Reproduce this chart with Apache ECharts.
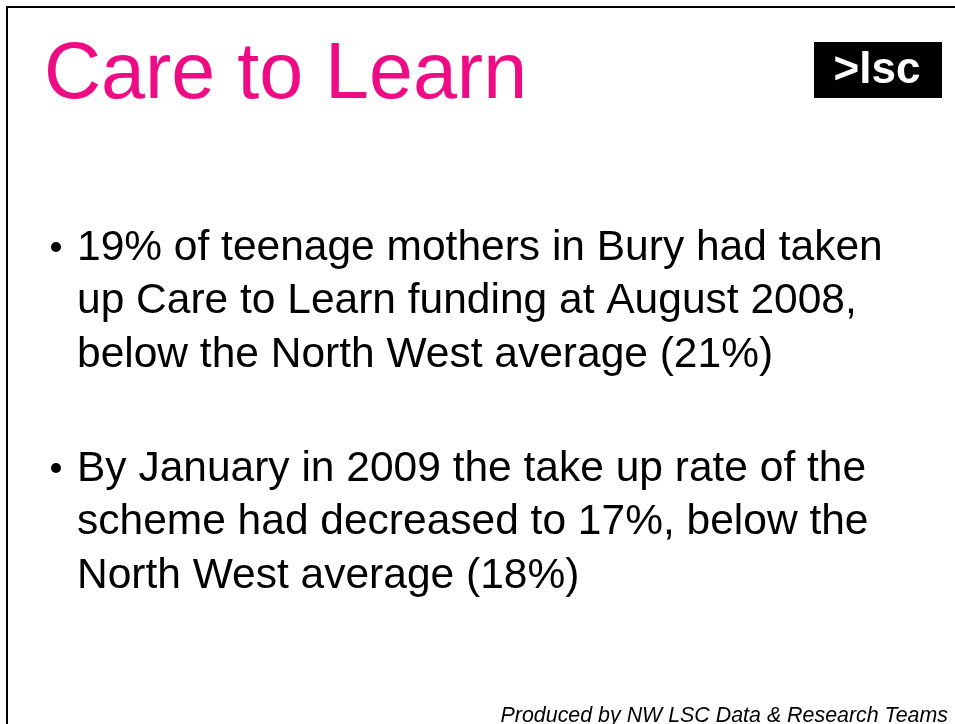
<!DOCTYPE html>
<html>
<head>
<meta charset="utf-8">
<script src="https://cdn.jsdelivr.net/npm/echarts@6/dist/echarts.min.js"></script>
<style>
html,body{margin:0;padding:0;background:#fff;}
#chart{width:955px;height:724px;}
</style>
</head>
<body>
<div id="chart"></div>
<script>
// Data
var title = 'Care to Learn';
var periods = ['August 2008', 'January 2009'];
var buryRate = [19, 17];
var northWestRate = [21, 18];
var footer = 'Produced by NW LSC Data & Research Teams';
var logoText = '>lsc';

var bullet1 = [
  buryRate[0] + '% of teenage mothers in Bury had taken',
  'up Care to Learn funding at ' + periods[0] + ',',
  'below the North West average (' + northWestRate[0] + '%)'
];
var bullet2 = [
  'By ' + periods[1].split(' ')[0] + ' in ' + periods[1].split(' ')[1] + ' the take up rate of the',
  'scheme had decreased to ' + buryRate[1] + '%, below the',
  'North West average (' + northWestRate[1] + '%)'
];

var font = '"Liberation Sans", Arial, sans-serif';
var chart = echarts.init(document.getElementById('chart'), null, {renderer: 'canvas'});

var elements = [
  {type: 'rect', shape: {x: 0, y: 0, width: 955, height: 724}, style: {fill: '#fff'}, silent: true},
  {type: 'line', shape: {x1: 7, y1: 7, x2: 955, y2: 7}, style: {stroke: '#000', lineWidth: 2}},
  {type: 'line', shape: {x1: 7, y1: 6, x2: 7, y2: 724}, style: {stroke: '#000', lineWidth: 2}},
  {type: 'text', x: 44, y: 76, style: {text: title, fill: '#EE0C84', font: '79px ' + font, verticalAlign: 'middle'}},
  {type: 'rect', shape: {x: 814, y: 42, width: 128, height: 56}, style: {fill: '#000'}},
  {type: 'text', x: 877, y: 71, style: {text: logoText, fill: '#fff', font: 'bold 44px ' + font, align: 'center', verticalAlign: 'middle'}},
  {type: 'text', x: 948, y: 716, style: {text: footer, fill: '#000', font: 'italic 21.4px ' + font, align: 'right', verticalAlign: 'middle'}}
];

function addBullet(lines, top) {
  elements.push({type: 'circle', shape: {cx: 56, cy: top - 1, r: 5}, style: {fill: '#000'}});
  lines.forEach(function (l, i) {
    elements.push({type: 'text', x: 77, y: top + i * 53.6, style: {text: l, fill: '#000', font: '42.5px ' + font, verticalAlign: 'middle'}});
  });
}
addBullet(bullet1, 248);
addBullet(bullet2, 469);

chart.setOption({backgroundColor: '#fff', graphic: {elements: elements}});
</script>
</body>
</html>
